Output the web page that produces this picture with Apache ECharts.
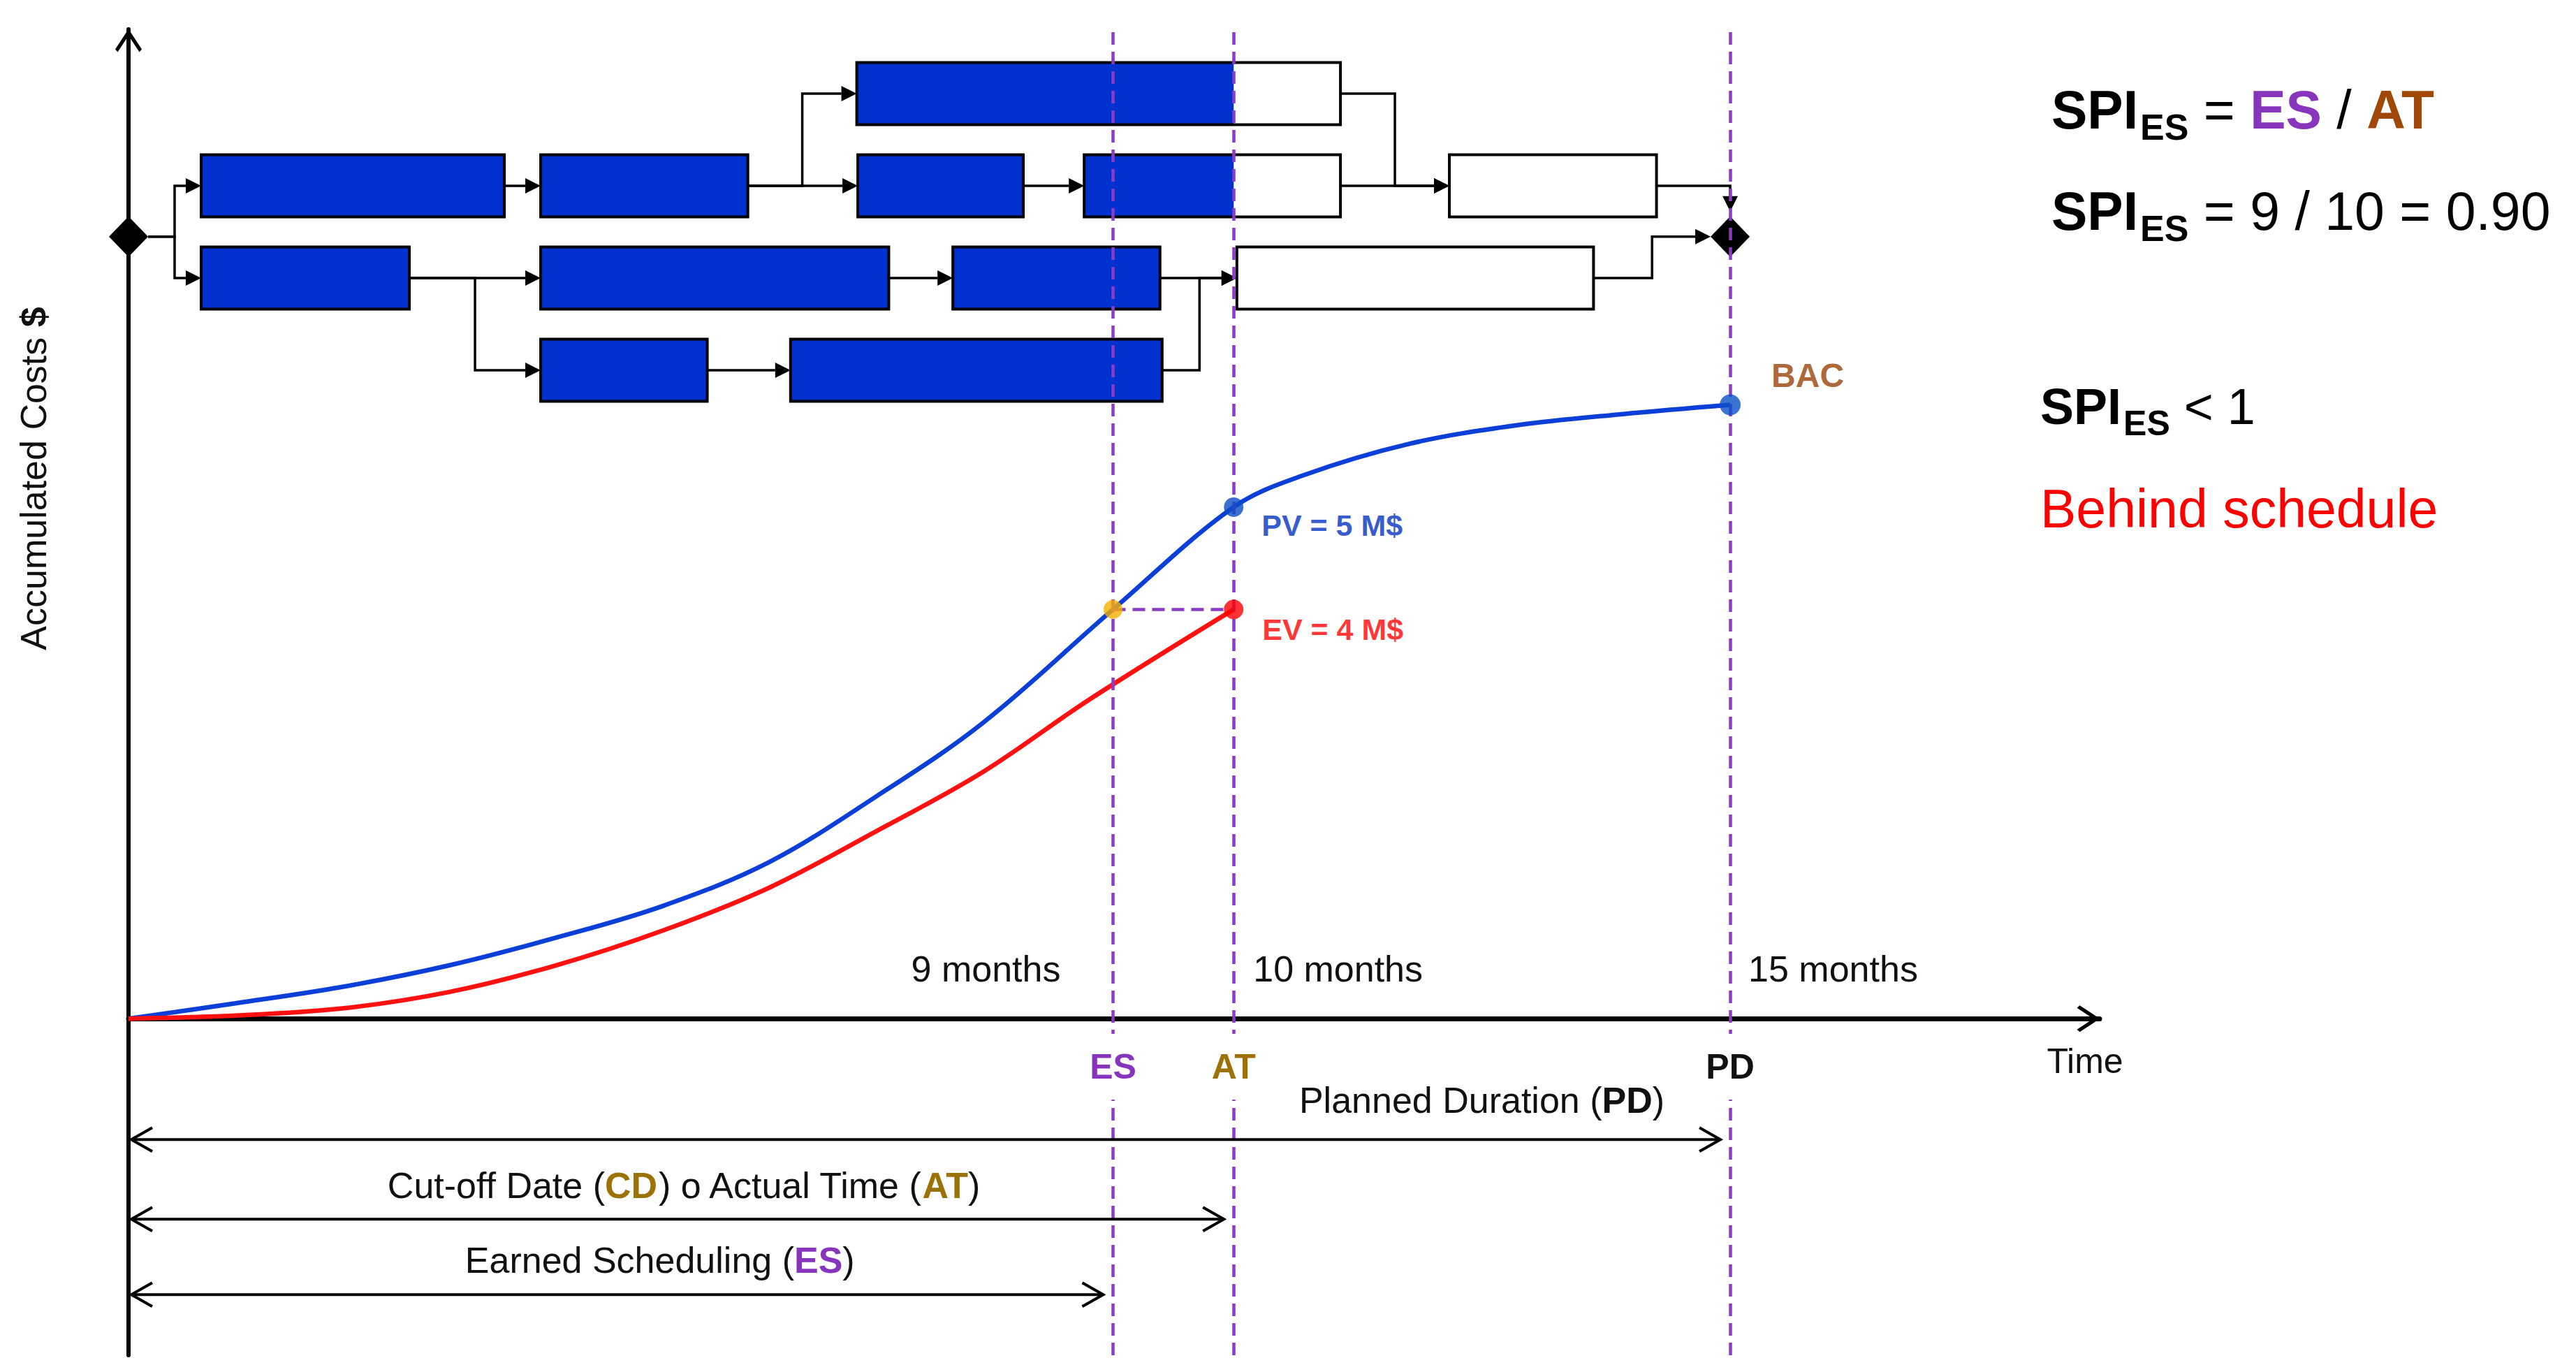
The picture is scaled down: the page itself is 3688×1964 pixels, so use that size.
<!DOCTYPE html>
<html>
<head>
<meta charset="utf-8">
<script src="https://cdn.jsdelivr.net/npm/echarts@6/dist/echarts.min.js"></script>
<style>
  html, body { margin: 0; padding: 0; background: #ffffff; }
  #chart { width: 3688px; height: 1964px; }
</style>
</head>
<body>
<div id="chart"></div>
<script>
// ================= DATA =================
// key dates on the time axis (months, as placed in the drawing) and their labelled month counts
const markNames  = ['ES', 'AT', 'PD'];
const markTimes  = [9.22, 10.35, 15];
const markMonths = [9, 10, 15];

// Planned Value curve (months, M$)
const pvMonths = [0, 1, 2, 3, 4, 5, 6, 7, 8, 9.22, 10.35, 11, 12, 13, 14, 15];
const pvValues = [0, 0.15, 0.31, 0.52, 0.79, 1.10, 1.53, 2.17, 2.89, 4.00, 5.00, 5.31, 5.62, 5.80, 5.91, 6.00];
// Earned Value curve (months, M$)
const evMonths = [0, 1, 2, 3, 4, 5, 6, 7, 8, 9, 10.35];
const evValues = [0, 0.03, 0.10, 0.26, 0.52, 0.86, 1.28, 1.83, 2.41, 3.12, 4.00];

const pvAtCutoff = 5;   // PV = 5 M$
const evAtCutoff = 4;   // EV = 4 M$
const bacValue   = 6;   // BAC

// Network / Gantt activities (row index, start month, end month)
const taskRows   = [1, 1, 1, 1, 1, 0, 2, 2, 2, 2, 3, 3];
const taskStarts = [0.68, 3.86, 6.83, 8.95, 12.37, 6.82, 0.68, 3.86, 7.72, 10.38, 3.86, 6.20];
const taskEnds   = [3.52, 5.80, 8.38, 11.35, 14.31, 11.35, 2.63, 7.12, 9.66, 13.72, 5.42, 9.68];
const milestoneTimes = [0, 15];            // 'S' start, 'F' finish
const links = [['S', 0], ['S', 6], [0, 1], [1, 2], [1, 5], [2, 3], [3, 4], [5, 4], [4, 'F'],
               [9, 'F'], [6, 7], [6, 10], [7, 8], [8, 9], [11, 9], [10, 11]];

// duration spans below the axis
const spanEnds   = [markTimes[2], markTimes[1], markTimes[0]];
const spanLabels = ['Planned Duration ({b|PD})',
                    'Cut-off Date ({g|CD}) o Actual Time ({g|AT})',
                    'Earned Scheduling ({p|ES})'];

// ================= LAYOUT / STYLE =================
const FF = '"Liberation Sans", Arial, Helvetica, sans-serif';
const COL = {
  line: '#8A3CC6', esText: '#8635BC', atText: '#9C7208', brown: '#A04808',
  pv: '#0B3FD8', ev: '#FF1111', box: '#0031CE', txt: '#111111'
};
const X_MAX = 18.46, Y_MIN = -3.29, Y_MAX = 9.67;
const ROW_MIN = -0.697, ROW_MAX = 13.68, BOX_H = 0.674, MS_ROW = 1.55;
const MONTH_LABEL_Y = 0.485, MARK_LABEL_Y = -0.47;
const SPAN_Y = [-1.181, -1.96, -2.697];
const monthLabelLayout = [{dx: -75, align: 'right'}, {dx: 28, align: 'left'}, {dx: 26, align: 'left'}];
const markColors = [COL.esText, COL.atText, COL.txt];
const spanLabelLayout = [{anchor: 'end', dx: -94, dy: -56, align: 'right'},
                         {anchor: 'mid', dx: 9,   dy: -48, align: 'center'},
                         {anchor: 'mid', dx: 61,  dy: -49, align: 'center'}];
const DH = 28, DV = 29;          // milestone diamond half sizes (px)
const AL = 22, AW = 11;          // connector arrow head
const chevron = 'path://M19,0L38,29L34.5,33L19,9.5L3.5,33L0,29Z';

function pair(xs, ys) { return xs.map((x, i) => [x, ys[i]]); }

// ---------- text measuring for the formula block ----------
const mctx = document.createElement('canvas').getContext('2d');
function textW(t, size, weight) {
  mctx.font = weight + ' ' + size + 'px "Liberation Sans"';
  return mctx.measureText(t).width;
}
function formula(x, baseline, parts) {
  let cx = x; const out = [];
  parts.forEach(p => {
    cx += (p.pre || 0);
    const lead = p.t.length - p.t.replace(/^\s+/, '').length;
    const leadW = lead ? textW(p.t.slice(0, lead), p.s, p.w) : 0;
    const b = baseline + (p.shift || 0);
    out.push({
      type: 'text', x: cx + leadW, y: b - 0.3465 * p.s, z: 20,
      style: { text: p.t.trim(), fontSize: p.s, fontWeight: p.w, fontFamily: FF,
               fill: p.c || '#000', align: 'left', verticalAlign: 'middle' }
    });
    cx += textW(p.t, p.s, p.w);
  });
  return out;
}

const esM = markMonths[0], atM = markMonths[1];
const spi = (esM / atM).toFixed(2);

const graphics = [].concat(
  formula(2937, 184, [
    {t: 'SPI', s: 77, w: 'bold'},
    {t: 'ES', s: 52, w: 'bold', shift: 16, pre: 3},
    {t: ' = ', s: 77, w: 'normal'},
    {t: markNames[0], s: 77, w: 'bold', c: COL.esText},
    {t: ' / ', s: 77, w: 'normal'},
    {t: markNames[1], s: 77, w: 'bold', c: COL.brown}
  ]),
  formula(2937, 329, [
    {t: 'SPI', s: 77, w: 'bold'},
    {t: 'ES', s: 52, w: 'bold', shift: 16, pre: 3},
    {t: ' = ' + esM + ' / ' + atM + ' = ' + spi, s: 77, w: 'normal'}
  ]),
  formula(2921, 607, [
    {t: 'SPI', s: 72, w: 'bold'},
    {t: 'ES', s: 50, w: 'bold', shift: 16, pre: 3},
    {t: ' < 1', s: 72, w: 'normal'}
  ]),
  formula(2921, 755, [
    {t: 'Behind schedule', s: 77, w: 'normal', c: '#FF0000'}
  ]),
  [{
    type: 'text', x: 48, y: 685, rotation: Math.PI / 2, z: 20,
    style: {
      text: 'Accumulated Costs {b|$}', fontSize: 52, fontFamily: FF, fill: COL.txt,
      align: 'center', verticalAlign: 'middle',
      rich: { b: { fontSize: 52, fontFamily: FF, fontWeight: 'bold', fill: COL.txt } }
    }
  }]
);

// ---------- render functions ----------
function renderTask(params, api) {
  const i = params.dataIndex, row = taskRows[i];
  const s = api.coord([taskStarts[i], row]);
  const e = api.coord([taskEnds[i], row]);
  const h = Math.abs(api.size([0, BOX_H])[1]);
  const top = s[1] - h / 2;
  const kids = [{ type: 'rect', shape: {x: s[0], y: top, width: e[0] - s[0], height: h},
                  style: {fill: '#ffffff'} }];
  const doneEnd = Math.min(taskEnds[i], markTimes[1]);
  if (doneEnd > taskStarts[i]) {
    const d = api.coord([doneEnd, row]);
    kids.push({ type: 'rect', shape: {x: s[0], y: top, width: d[0] - s[0], height: h},
                style: {fill: COL.box} });
  }
  kids.push({ type: 'rect', shape: {x: s[0], y: top, width: e[0] - s[0], height: h},
              style: {fill: 'none', stroke: '#000', lineWidth: 4} });
  return { type: 'group', children: kids };
}

function renderLink(params, api) {
  const [a, b] = links[params.dataIndex];
  let p1, p2, mode = 'h', fromRow;
  if (a === 'S') {
    const c = api.coord([milestoneTimes[0], MS_ROW]);
    p1 = [c[0] + DH, c[1]]; fromRow = MS_ROW;
  } else {
    p1 = api.coord([taskEnds[a], taskRows[a]]); fromRow = taskRows[a];
  }
  if (b === 'F') {
    const c = api.coord([milestoneTimes[1], MS_ROW]);
    if (fromRow < MS_ROW) { mode = 'v'; p2 = [c[0], c[1] - DV - 7]; }
    else { p2 = [c[0] - DH, c[1]]; }
  } else {
    p2 = api.coord([taskStarts[b], taskRows[b]]);
  }
  let pts, head;
  if (mode === 'v') {
    pts = [p1, [p2[0], p1[1]], [p2[0], p2[1] - AL]];
    head = [[p2[0], p2[1]], [p2[0] - AW, p2[1] - AL], [p2[0] + AW, p2[1] - AL]];
  } else {
    if (Math.abs(p1[1] - p2[1]) < 1) {
      pts = [p1, [p2[0] - AL, p2[1]]];
    } else {
      const xm = (p1[0] + p2[0]) / 2;
      pts = [p1, [xm, p1[1]], [xm, p2[1]], [p2[0] - AL, p2[1]]];
    }
    head = [[p2[0], p2[1]], [p2[0] - AL, p2[1] - AW], [p2[0] - AL, p2[1] + AW]];
  }
  return { type: 'group', children: [
    { type: 'polyline', shape: {points: pts}, style: {stroke: '#000', lineWidth: 3.5, fill: null} },
    { type: 'polygon', shape: {points: head}, style: {fill: '#000'} }
  ]};
}

function renderMilestone(params, api) {
  const c = api.coord([milestoneTimes[params.dataIndex], MS_ROW]);
  return { type: 'polygon',
    shape: {points: [[c[0], c[1] - DV], [c[0] + DH, c[1]], [c[0], c[1] + DV], [c[0] - DH, c[1]]]},
    style: {fill: '#000'} };
}

function renderSpan(params, api) {
  const i = params.dataIndex;
  const y = api.coord([0, SPAN_Y[i]])[1];
  const x0 = api.coord([0, 0])[0] + 4;
  const x1 = api.coord([spanEnds[i], 0])[0] - 14;
  const L = 30, W = 17;
  const lay = spanLabelLayout[i];
  const tx = (lay.anchor === 'end' ? api.coord([spanEnds[i], 0])[0] : (x0 + x1) / 2) + lay.dx;
  const rich = {
    b: {fontSize: 52, fontFamily: FF, fontWeight: 'bold', fill: COL.txt},
    g: {fontSize: 52, fontFamily: FF, fontWeight: 'bold', fill: COL.atText},
    p: {fontSize: 52, fontFamily: FF, fontWeight: 'bold', fill: COL.esText}
  };
  return { type: 'group', children: [
    { type: 'polyline', shape: {points: [[x0, y], [x1, y]]}, style: {stroke: '#000', lineWidth: 4, fill: null} },
    { type: 'polyline', shape: {points: [[x0 + L, y - W], [x0, y], [x0 + L, y + W]]}, style: {stroke: '#000', lineWidth: 4, fill: null} },
    { type: 'polyline', shape: {points: [[x1 - L, y - W], [x1, y], [x1 - L, y + W]]}, style: {stroke: '#000', lineWidth: 4, fill: null} },
    { type: 'text', x: tx, y: y + lay.dy,
      style: {text: spanLabels[i], rich: rich, fontSize: 52, fontFamily: FF, fill: COL.txt,
              align: lay.align, verticalAlign: 'middle'} }
  ]};
}

function renderMonthLabel(params, api) {
  const i = params.dataIndex;
  const p = api.coord([markTimes[i], MONTH_LABEL_Y]);
  return { type: 'text', x: p[0] + monthLabelLayout[i].dx, y: p[1],
    style: {text: markMonths[i] + ' months', fontSize: 52, fontFamily: FF, fill: COL.txt,
            align: monthLabelLayout[i].align, verticalAlign: 'middle'} };
}

function renderMarkLabel(params, api) {
  const i = params.dataIndex;
  const p = api.coord([markTimes[i], MARK_LABEL_Y]);
  return { type: 'text', x: p[0], y: p[1],
    style: {text: markNames[i], fontSize: 50, fontWeight: 'bold', fontFamily: FF, fill: markColors[i],
            align: 'center', verticalAlign: 'middle', backgroundColor: '#ffffff', padding: [22, 8]} };
}

// ================= CHART =================
const chart = echarts.init(document.getElementById('chart'), null, {renderer: 'svg'});
const dashStyle = {color: COL.line, width: 4.5, type: [18, 10]};

chart.setOption({
  animation: false,
  backgroundColor: '#ffffff',
  grid: {left: 184, right: 682, top: 42, bottom: 24, containLabel: false, outerBoundsMode: 'none'},
  xAxis: {
    type: 'value', min: 0, max: X_MAX,
    axisLine: {show: true, onZero: true, onZeroAxisIndex: 0,
      lineStyle: {color: '#000', width: 7},
      symbol: ['none', chevron], symbolSize: [38, 36], symbolOffset: [0, -16]},
    axisTick: {show: false}, axisLabel: {show: false}, splitLine: {show: false},
    name: 'Time', nameLocation: 'end', nameGap: -21,
    nameTextStyle: {fontSize: 50, fontFamily: FF, color: COL.txt, align: 'center',
                    verticalAlign: 'top', padding: [36, 0, 0, 0]}
  },
  yAxis: [
    {
      type: 'value', min: Y_MIN, max: Y_MAX,
      axisLine: {show: true, onZero: true, lineStyle: {color: '#000', width: 6},
        symbol: ['none', chevron], symbolSize: [38, 36], symbolOffset: [0, -16]},
      axisTick: {show: false}, axisLabel: {show: false}, splitLine: {show: false}
    },
    { type: 'value', min: ROW_MIN, max: ROW_MAX, inverse: true, show: false,
      axisLine: {show: false}, splitLine: {show: false} }
  ],
  graphic: graphics,
  series: [
    { type: 'custom', name: 'links', yAxisIndex: 1, clip: false, z: 2, silent: true,
      data: links.map(() => [0, 0]), encode: {x: 0, y: 1}, renderItem: renderLink },
    { type: 'custom', name: 'tasks', yAxisIndex: 1, clip: false, z: 3, silent: true,
      data: taskStarts.map((s, i) => [s, taskRows[i], taskEnds[i]]), encode: {x: [0, 2], y: 1},
      renderItem: renderTask },
    { type: 'custom', name: 'milestones', yAxisIndex: 1, clip: false, z: 3, silent: true,
      data: milestoneTimes.map(t => [t, MS_ROW]), encode: {x: 0, y: 1}, renderItem: renderMilestone },
    { type: 'line', name: 'PV', data: pair(pvMonths, pvValues), smooth: 0.35,
      symbol: 'none', lineStyle: {color: COL.pv, width: 6.5}, z: 4, silent: true,
      markLine: { silent: true, symbol: 'none', label: {show: false}, lineStyle: dashStyle,
        data: [ {xAxis: markTimes[0]}, {xAxis: markTimes[1]}, {xAxis: markTimes[2]},
                [{coord: [markTimes[0], evAtCutoff]}, {coord: [markTimes[1], evAtCutoff]}] ] } },
    { type: 'line', name: 'EV', data: pair(evMonths, evValues), smooth: 0.35,
      symbol: 'none', lineStyle: {color: COL.ev, width: 6.5}, z: 4, silent: true },
    { type: 'scatter', name: 'points', z: 6, silent: true,
      data: [
        { value: [markTimes[1], pvAtCutoff], symbolSize: 28, itemStyle: {color: '#0A4CC4'},
          label: {show: true, formatter: 'PV = ' + pvAtCutoff + ' M$', position: [54, 40],
                  align: 'left', verticalAlign: 'middle', fontSize: 43, fontWeight: 'bold',
                  fontFamily: FF, color: '#0030C0'} },
        { value: [markTimes[1], evAtCutoff], symbolSize: 28, itemStyle: {color: '#FF0000'},
          label: {show: true, formatter: 'EV = ' + evAtCutoff + ' M$', position: [55, 43],
                  align: 'left', verticalAlign: 'middle', fontSize: 43, fontWeight: 'bold',
                  fontFamily: FF, color: '#FF0000'} },
        { value: [markTimes[0], evAtCutoff], symbolSize: 27, itemStyle: {color: '#F5B000'} },
        { value: [markTimes[2], bacValue], symbolSize: 30, itemStyle: {color: '#0A50C8'},
          label: {show: true, formatter: 'BAC', position: [74, -27],
                  align: 'left', verticalAlign: 'middle', fontSize: 48, fontWeight: 'bold',
                  fontFamily: FF, color: '#983F04'} }
      ] },
    { type: 'custom', name: 'spans', clip: false, z: 6, silent: true,
      data: spanEnds.map((t, i) => [t, SPAN_Y[i]]), encode: {x: 0, y: 1}, renderItem: renderSpan },
    { type: 'custom', name: 'monthLabels', clip: false, z: 7, silent: true,
      data: markTimes.map(t => [t, MONTH_LABEL_Y]), encode: {x: 0, y: 1}, renderItem: renderMonthLabel },
    { type: 'custom', name: 'markLabels', clip: false, z: 8, silent: true,
      data: markTimes.map(t => [t, MARK_LABEL_Y]), encode: {x: 0, y: 1}, renderItem: renderMarkLabel }
  ]
});
</script>
</body>
</html>
